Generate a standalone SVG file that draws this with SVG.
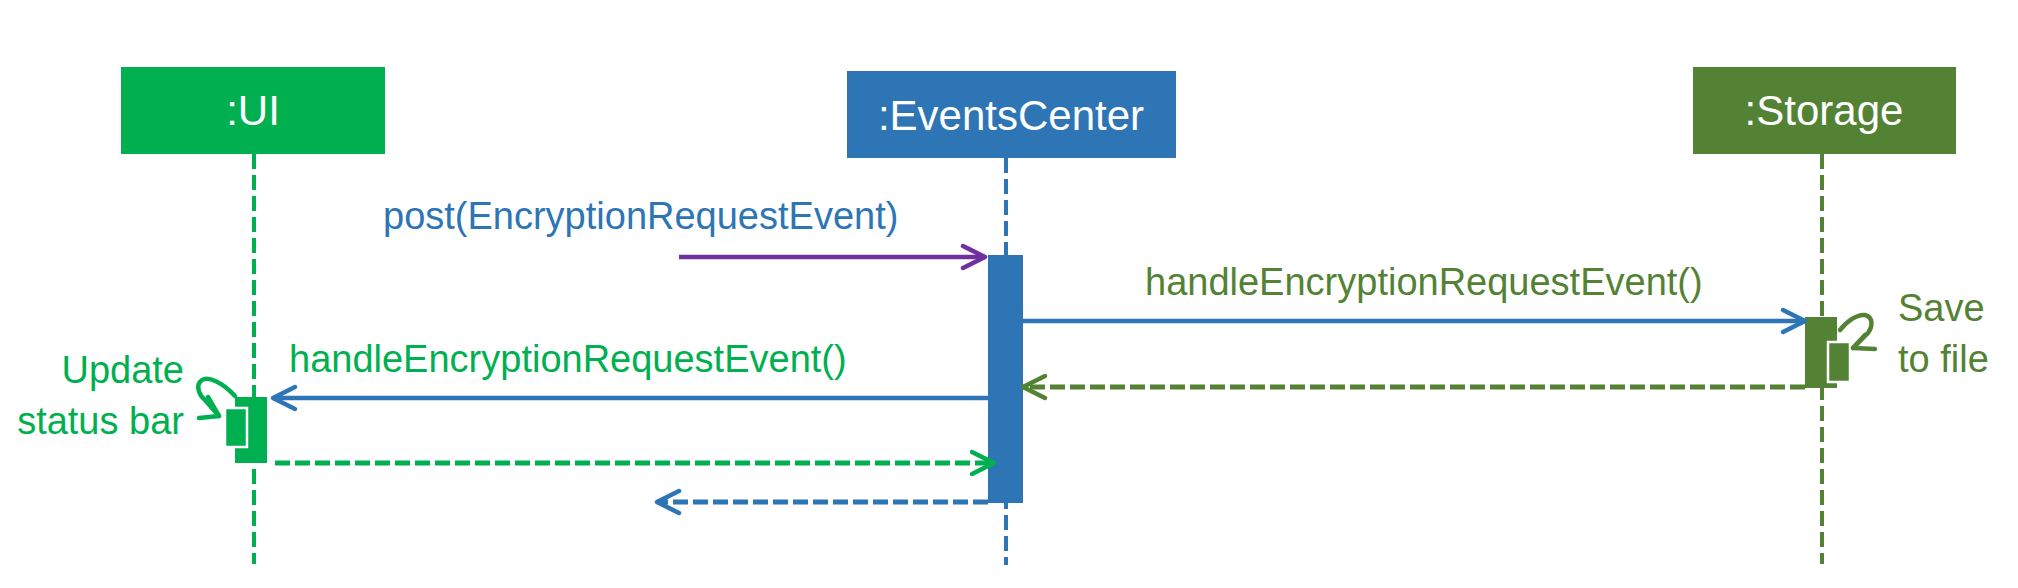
<svg xmlns="http://www.w3.org/2000/svg" width="2018" height="588" viewBox="0 0 2018 588">
<style>
  text { font-family: "Liberation Sans", Arial, sans-serif; }
  .hdr { font-size: 42px; fill: #ffffff; text-anchor: middle; }
  .lbl { font-size: 38px; }
  .life { fill: none; stroke-width: 4; stroke-dasharray: 15 6; }
  .msg { fill: none; stroke-width: 4.5; }
  .ret { fill: none; stroke-width: 5; stroke-dasharray: 15 5; }
  .head { fill: none; stroke-width: 4.5; stroke-linecap: round; stroke-linejoin: round; stroke-dasharray: none; }
  .self { fill: none; stroke-width: 4.5; stroke-linecap: round; stroke-linejoin: round; }
  .nest { stroke: #ffffff; stroke-width: 2.5; }
</style>
<defs>
  <marker id="ah-purple" markerUnits="userSpaceOnUse" markerWidth="30" markerHeight="30" refX="25" refY="14" orient="auto" overflow="visible">
    <path class="head" stroke="#7030A0" d="M3 3 L25 14 L3 25"/>
  </marker>
  <marker id="ah-blue" markerUnits="userSpaceOnUse" markerWidth="30" markerHeight="30" refX="25" refY="14" orient="auto" overflow="visible">
    <path class="head" stroke="#2E75B6" d="M3 3 L25 14 L3 25"/>
  </marker>
  <marker id="ah-green" markerUnits="userSpaceOnUse" markerWidth="30" markerHeight="30" refX="25" refY="14" orient="auto" overflow="visible">
    <path class="head" stroke="#00B050" d="M3 3 L25 14 L3 25"/>
  </marker>
  <marker id="ah-dkgreen" markerUnits="userSpaceOnUse" markerWidth="30" markerHeight="30" refX="25" refY="14" orient="auto" overflow="visible">
    <path class="head" stroke="#548235" d="M3 3 L25 14 L3 25"/>
  </marker>
</defs>
<rect width="2018" height="588" fill="#ffffff"/>

<g id="ui">
  <rect x="121" y="67" width="264" height="87" fill="#00B050"/>
  <text class="hdr" x="253" y="125">:UI</text>
  <line class="life" x1="254" y1="154" x2="254" y2="564" stroke="#00B050"/>
  <rect x="235" y="397" width="32" height="66" fill="#00B050"/>
  <rect class="nest" x="225" y="408" width="22" height="39" fill="#00B050"/>
  <path class="self" stroke="#00B050" d="M235 396 C 222 382 208 376 202 380 C 195 385 199 395 205 400 L 219 416"/>
  <path class="self" stroke="#00B050" d="M208 397 L219 416 L199 418"/>
  <text class="lbl" fill="#00B050" text-anchor="end" x="184" y="383">Update</text>
  <text class="lbl" fill="#00B050" text-anchor="end" x="184" y="434">status bar</text>
</g>

<g id="eventscenter">
  <rect x="847" y="71" width="329" height="87" fill="#2E75B6"/>
  <text class="hdr" x="1011" y="130">:EventsCenter</text>
  <line class="life" x1="1006" y1="158" x2="1006" y2="565" stroke="#2E75B6"/>
  <rect x="988" y="255" width="35" height="248" fill="#2E75B6"/>
</g>

<g id="storage">
  <rect x="1693" y="67" width="263" height="87" fill="#548235"/>
  <text class="hdr" x="1824" y="125">:Storage</text>
  <line class="life" x1="1822" y1="154" x2="1822" y2="564" stroke="#548235"/>
  <rect x="1805" y="317" width="32" height="71" fill="#548235"/>
  <rect class="nest" x="1828" y="342" width="22" height="40" fill="#548235"/>
  <path class="self" stroke="#548235" d="M1840 330 C 1848 320 1858 314 1865 315 C 1873 317 1873 326 1868 333 L 1853 348"/>
  <path class="self" stroke="#548235" d="M1865 335 L1853 348 L1875 349"/>
  <text class="lbl" fill="#548235" x="1898" y="321">Save</text>
  <text class="lbl" fill="#548235" x="1898" y="372">to file</text>
</g>

<g id="connectors">
  <line class="msg" x1="679" y1="257" x2="985" y2="257" stroke="#7030A0" marker-end="url(#ah-purple)"/>
  <text class="lbl" fill="#2E75B6" x="383" y="229">post(EncryptionRequestEvent)</text>

  <line class="msg" x1="1023" y1="321" x2="1805" y2="321" stroke="#2E75B6" marker-end="url(#ah-blue)"/>
  <text class="lbl" fill="#548235" x="1145" y="295">handleEncryptionRequestEvent()</text>

  <line class="ret" x1="1805" y1="387" x2="1023" y2="387" stroke="#548235" marker-end="url(#ah-dkgreen)"/>

  <line class="msg" x1="988" y1="398" x2="273" y2="398" stroke="#2E75B6" marker-end="url(#ah-blue)"/>
  <text class="lbl" fill="#00B050" x="289" y="372">handleEncryptionRequestEvent()</text>

  <line class="ret" x1="275" y1="463" x2="994" y2="463" stroke="#00B050" marker-end="url(#ah-green)"/>

  <line class="ret" x1="988" y1="502" x2="657" y2="502" stroke="#2E75B6" marker-end="url(#ah-blue)"/>
</g>
</svg>
